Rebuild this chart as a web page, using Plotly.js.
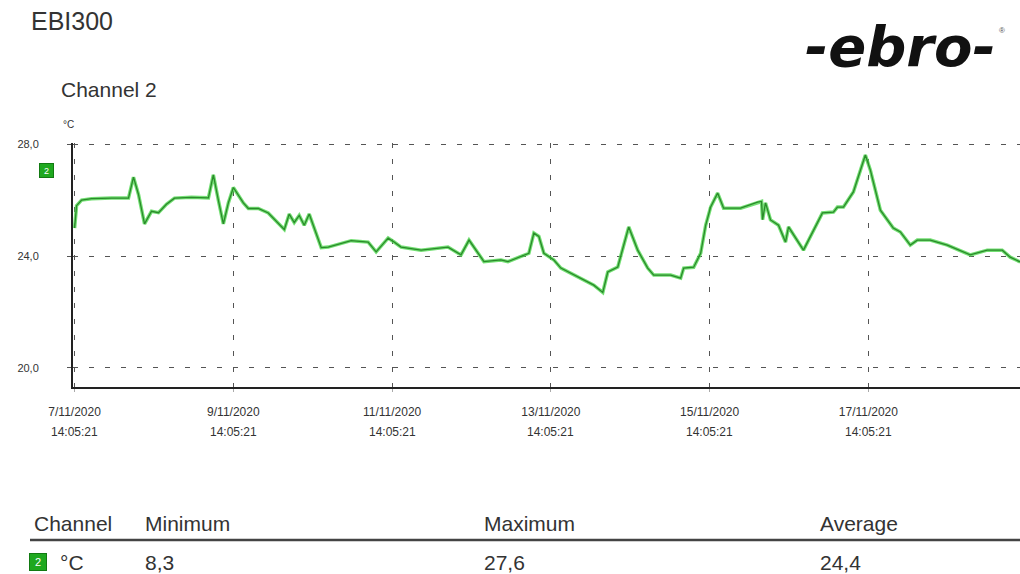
<!DOCTYPE html>
<html>
<head>
<meta charset="utf-8">
<script src="https://cdn.plot.ly/plotly-3.0.1.min.js"></script>
<style>
html,body{margin:0;padding:0;background:#fff;}
#chart{width:1020px;height:574px;}
</style>
</head>
<body>
<div id="chart"></div>
<script>
// Days since 7/11/2020 14:05:21
const daysSinceStart = [0.0,0.025,0.088,0.214,0.465,0.679,0.742,0.805,0.881,0.969,1.057,1.157,1.258,1.472,1.686,1.748,1.811,1.874,1.937,2.0,
  2.126,2.189,2.314,2.44,2.642,2.704,2.767,2.83,2.893,2.956,3.107,3.195,3.484,3.698,3.799,3.95,4.025,4.113,4.365,4.704,
  4.868,4.969,5.157,5.371,5.459,5.66,5.723,5.786,5.849,5.912,6.038,6.126,6.377,6.541,6.654,6.717,6.843,6.981,7.094,7.22,
  7.296,7.509,7.635,7.673,7.799,7.887,7.95,8.013,8.101,8.176,8.39,8.604,8.654,8.667,8.704,8.767,8.868,8.956,8.994,9.182,
  9.421,9.56,9.61,9.686,9.811,9.962,10.025,10.151,10.314,10.403,10.528,10.616,10.78,10.994,11.283,11.497,11.686,11.786,11.912];
const temperatureC = [25.0,25.8,26.0,26.05,26.07,26.07,26.82,26.2,25.15,25.6,25.55,25.85,26.07,26.1,26.08,26.9,26.0,25.15,25.9,26.45,
  25.9,25.7,25.7,25.54,24.95,25.5,25.2,25.45,25.1,25.5,24.3,24.32,24.55,24.5,24.15,24.64,24.5,24.32,24.21,24.32,
  24.04,24.57,23.8,23.86,23.8,24.04,24.1,24.82,24.7,24.1,23.86,23.57,23.21,22.96,22.7,23.43,23.61,25.04,24.21,23.57,
  23.32,23.32,23.21,23.57,23.6,24.1,25.1,25.75,26.25,25.71,25.71,25.93,25.95,25.3,25.9,25.29,25.1,24.5,25.04,24.21,
  25.54,25.57,25.75,25.75,26.29,27.61,27.07,25.64,25.0,24.86,24.39,24.57,24.57,24.39,24.04,24.21,24.21,23.96,23.79];

const xTickDays = [0,2,4,6,8,10];
const xTickDates = ["7/11/2020","9/11/2020","11/11/2020","13/11/2020","15/11/2020","17/11/2020"];
const xTickTimes = ["14:05:21","14:05:21","14:05:21","14:05:21","14:05:21","14:05:21"];
const yTickValues = [20,24,28];
const yTickLabels = ["20,0","24,0","28,0"];

const tableHeaders = ["Channel","Minimum","Maximum","Average"];
const tableUnit = "°C";
const tableValues = ["8,3","27,6","24,4"];
const channelName = "2";

const font = "Liberation Sans, Arial, sans-serif";
const L = 73, W = 947, T = 143, H = 244;
const px = v => (v - L) / W;
const py = v => 1 - (v - T) / H;

const traces = [
  {x: daysSinceStart, y: temperatureC, type:'scatter', mode:'lines',
   line:{color:'rgba(80,215,80,0.8)', width:3.5}, hoverinfo:'skip'},
  {x: daysSinceStart, y: temperatureC, type:'scatter', mode:'lines',
   line:{color:'#2a8a2a', width:1.3}}
];

const tableX = [32,143,482,818];
const annotations = [
  {xref:'paper', yref:'paper', x:px(29), y:py(21), xanchor:'left', yanchor:'middle', showarrow:false,
   text:'EBI300', font:{family:font, size:25, color:'#333'}},
  {xref:'paper', yref:'paper', x:px(59), y:py(89), xanchor:'left', yanchor:'middle', showarrow:false,
   text:'Channel 2', font:{family:font, size:21, color:'#333'}},
  {xref:'paper', yref:'paper', x:px(61), y:py(124), xanchor:'left', yanchor:'middle', showarrow:false,
   text:'°C', font:{family:font, size:10, color:'#333'}},
  {xref:'paper', yref:'paper', x:px(900), y:py(46), xanchor:'center', yanchor:'middle', showarrow:false,
   text:'<b><i>-ebro-</i></b>', font:{family:'DejaVu Sans, sans-serif', size:56, color:'#111'}},
  {xref:'paper', yref:'paper', x:px(1002), y:py(30), xanchor:'center', yanchor:'middle', showarrow:false,
   text:'®', font:{family:font, size:8, color:'#555'}},
  {xref:'paper', yref:'paper', x:px(46), y:py(170), xanchor:'center', yanchor:'middle', showarrow:false,
   text:channelName, bgcolor:'#1fa81f', bordercolor:'#127a12', borderwidth:1, borderpad:1,
   font:{family:font, size:9, color:'#fff'}, width:11, height:11}
];
xTickDays.forEach((d,i)=>{
  annotations.push({xref:'x', yref:'paper', x:d, y:py(432), xanchor:'center', yanchor:'middle', showarrow:false,
    text:xTickTimes[i], font:{family:font, size:12, color:'#333'}});
});
tableHeaders.forEach((h,i)=>{
  annotations.push({xref:'paper', yref:'paper', x:px(tableX[i]), y:py(523), xanchor:'left', yanchor:'middle',
    showarrow:false, text:h, font:{family:font, size:21, color:'#333'}});
});
annotations.push({xref:'paper', yref:'paper', x:px(38), y:py(562), xanchor:'center', yanchor:'middle',
  showarrow:false, text:channelName, bgcolor:'#1fa81f', bordercolor:'#127a12', borderwidth:1, borderpad:1,
  font:{family:font, size:11, color:'#fff'}, width:14, height:14});
annotations.push({xref:'paper', yref:'paper', x:px(58), y:py(562), xanchor:'left', yanchor:'middle',
  showarrow:false, text:tableUnit, font:{family:font, size:21, color:'#333'}});
tableValues.forEach((v,i)=>{
  annotations.push({xref:'paper', yref:'paper', x:px(tableX[i+1]), y:py(562), xanchor:'left', yanchor:'middle',
    showarrow:false, text:v, font:{family:font, size:21, color:'#333'}});
});

const shapes = [
  {type:'line', xref:'paper', yref:'paper', x0:px(30), x1:1, y0:py(540), y1:py(540),
   line:{color:'#444', width:2.5}}
];

const layout = {
  width:1020, height:574,
  margin:{l:L, r:0, t:T, b:574-T-H},
  paper_bgcolor:'#fff', plot_bgcolor:'#fff',
  showlegend:false,
  xaxis:{range:[-0.02, 11.91], tickvals:xTickDays, ticktext:xTickDates,
    showgrid:true, gridcolor:'#555', gridwidth:1, griddash:'5px,11px',
    showline:true, linecolor:'#222', linewidth:2, zeroline:false,
    ticks:'outside', ticklen:3, tickcolor:'#aaa', ticklabelstandoff:10,
    tickfont:{family:font, size:12, color:'#333'}},
  yaxis:{range:[19.32, 28.04], tickvals:yTickValues, ticktext:yTickLabels,
    showgrid:true, gridcolor:'#555', gridwidth:1, griddash:'5px,11px',
    showline:true, linecolor:'#222', linewidth:2, zeroline:false,
    ticks:'outside', ticklen:4, tickcolor:'#555', ticklabelstandoff:26,
    tickfont:{family:font, size:11, color:'#333'}},
  annotations:annotations,
  shapes:shapes
};

Plotly.newPlot('chart', traces, layout, {displayModeBar:false, staticPlot:true});
</script>
</body>
</html>
